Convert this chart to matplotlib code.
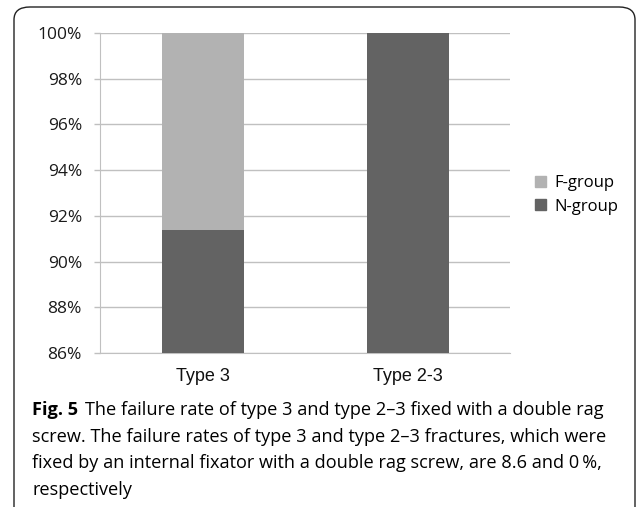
import matplotlib
matplotlib.use("Agg")
import matplotlib.pyplot as plt
from matplotlib.patches import FancyBboxPatch, Patch
from matplotlib.ticker import FuncFormatter

categories = ["Type 3", "Type 2-3"]
n_group = [91.4, 100.0]
f_group = [8.6, 0.0]
yticks = [86, 88, 90, 92, 94, 96, 98, 100]
caption_lines = [
    "The failure rate of type 3 and type 2\u20133 fixed with a double rag",
    "screw. The failure rates of type 3 and type 2\u20133 fractures, which were",
    "fixed by an internal fixator with a double rag screw, are 8.6 and 0\u2009%,",
    "respectively",
]

W, H = 637, 507
fig = plt.figure(figsize=(W / 100, H / 100), dpi=100)

def fx(px):
    return px / W

def fy(py):
    return 1 - py / H

# rounded panel border (bottom is cut off)
box = FancyBboxPatch((fx(14), fy(540)), fx(635) - fx(14), fy(7) - fy(540),
                     boxstyle="round,pad=0,rounding_size=0.025",
                     transform=fig.transFigure, fill=False,
                     edgecolor="#222222", linewidth=1.0, clip_on=True)
fig.patches.append(box)

ax = fig.add_axes([fx(100), fy(353), fx(510) - fx(100), fy(33) - fy(353)])
x = range(len(categories))
ax.bar(x, n_group, width=0.4, color="#636363", label="N-group", zorder=3)
ax.bar(x, f_group, width=0.4, bottom=n_group, color="#b2b2b2", label="F-group", zorder=3)
ax.set_xlim(-0.5, 1.5)
ax.set_ylim(86, 100)
ax.set_yticks(yticks)
ax.yaxis.set_major_formatter(FuncFormatter(lambda v, p: f"{int(v)}%"))
ax.set_xticks(list(x))
ax.set_xticklabels(categories, fontfamily="Liberation Sans", fontsize=13)
ax.tick_params(axis="x", length=0, pad=11, colors="#111111")
ax.tick_params(axis="y", length=4, width=1, color="#bfbfbf", pad=9, labelsize=12.5)
for lab in ax.get_yticklabels():
    lab.set_fontfamily("Open Sans")
ax.tick_params(axis="y", colors="#bfbfbf", labelcolor="#1a1a1a")
ax.grid(axis="y", color="#c0c0c0", linewidth=1.0, zorder=0)
for s in ["top", "right"]:
    ax.spines[s].set_visible(False)
ax.spines["left"].set_color("#c0c0c0")
ax.spines["bottom"].set_color("#c0c0c0")

handles = [Patch(color="#b2b2b2", label="F-group"), Patch(color="#636363", label="N-group")]
fig.legend(handles=handles, loc="center left", bbox_to_anchor=(fx(520), fy(195)),
           frameon=False, prop={"family": "Open Sans", "size": 12},
           handlelength=0.65, handleheight=0.65, handletextpad=0.5, labelspacing=0.45)

# caption
fig.canvas.draw()
renderer = fig.canvas.get_renderer()
fs = 13.1
bold = fig.text(fx(32), fy(415), "Fig. 5", fontfamily="Open Sans", fontweight="bold",
                fontsize=fs, va="baseline", ha="left")
bb = bold.get_window_extent(renderer)
x0 = bb.x1 + 7
fig.text(x0 / W, fy(415), caption_lines[0], fontfamily="Open Sans", fontsize=fs,
         va="baseline", ha="left")
for i, txt in enumerate(caption_lines[1:]):
    fig.text(fx(32), fy(415 + 26.7 * (i + 1)), txt, fontfamily="Open Sans",
             fontsize=fs, va="baseline", ha="left")

fig.savefig("out.png", dpi=100)
